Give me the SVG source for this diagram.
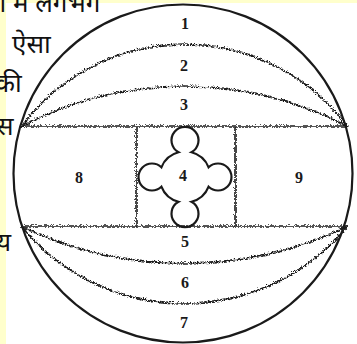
<svg xmlns="http://www.w3.org/2000/svg" width="357" height="344" viewBox="0 0 357 344">
<style>
.hi{font-family:"Noto Sans","Noto Sans Devanagari","Lohit Devanagari",sans-serif;font-size:26px;fill:#111}
.num{font-family:"Liberation Serif","Times New Roman",serif;font-size:16px;font-weight:bold;fill:#1a1a1a;text-anchor:middle}
.wl{fill:none;stroke:#1a1a1a;stroke-width:1.6}
.ol{fill:none;stroke:#1a1a1a;stroke-width:2.2}
</style>
<defs>
<filter id="wv" filterUnits="userSpaceOnUse" x="0" y="0" width="357" height="344">
<feTurbulence type="turbulence" baseFrequency="0.7" numOctaves="1" seed="4"/>
<feDisplacementMap in="SourceGraphic" scale="4" xChannelSelector="R" yChannelSelector="G"/>
</filter>
</defs>
<rect x="0" y="0" width="357" height="344" fill="#ffffcc"/>
<rect x="6" y="3" width="351" height="341" fill="#ffffff"/>
<g id="page-text">
<text class="hi" x="-16" y="12">ा में लगभग</text>
<text class="hi" x="12" y="53">ऐसा</text>
<text class="hi" x="-5" y="92">की</text>
<text class="hi" x="-4" y="135">स</text>
<text class="hi" x="-4" y="251">य</text>
</g>
<g id="connectors" filter="url(#wv)">
<path class="wl" d="M20,125 A203,203 0 0 1 346,125"/>
<path class="wl" d="M20,125 A352,352 0 0 1 346,125"/>
<path class="wl" d="M20,125 L346,125"/>
<path class="wl" d="M20,225 L346,225"/>
<path class="wl" d="M20,225 A377.5,377.5 0 0 0 346,225"/>
<path class="wl" d="M20,225 A211,211 0 0 0 346,225"/>
<path class="wl" d="M135,125 L135,225"/>
<path class="wl" d="M234,125 L234,225"/>
</g>
<g id="outer">
<ellipse class="ol" cx="183" cy="173.5" rx="169.5" ry="169"/>
</g>
<g id="cross">
<path class="ol" stroke-width="1.7" d="M191.5,152.2 A13.5,13.5 0 1 0 178.5,152.2 A25,25 0 0 0 161.4,167.3 A13.5,13.5 0 1 0 161.4,186.7 A25,25 0 0 0 178.5,201.8 A13.5,13.5 0 1 0 191.5,201.8 A25,25 0 0 0 208.6,186.7 A13.5,13.5 0 1 0 208.6,167.3 A25,25 0 0 0 191.5,152.2 Z"/>
</g>
<g id="labels">
<g id="n1"><text class="num" x="185" y="29">1</text></g>
<g id="n2"><text class="num" x="184" y="71">2</text></g>
<g id="n3"><text class="num" x="184" y="110">3</text></g>
<g id="n8"><text class="num" x="79" y="183">8</text></g>
<g id="n4"><text class="num" x="183" y="181">4</text></g>
<g id="n9"><text class="num" x="299" y="183">9</text></g>
<g id="n5"><text class="num" x="185" y="247">5</text></g>
<g id="n6"><text class="num" x="185" y="288">6</text></g>
<g id="n7"><text class="num" x="184" y="328">7</text></g>
</g>
</svg>
